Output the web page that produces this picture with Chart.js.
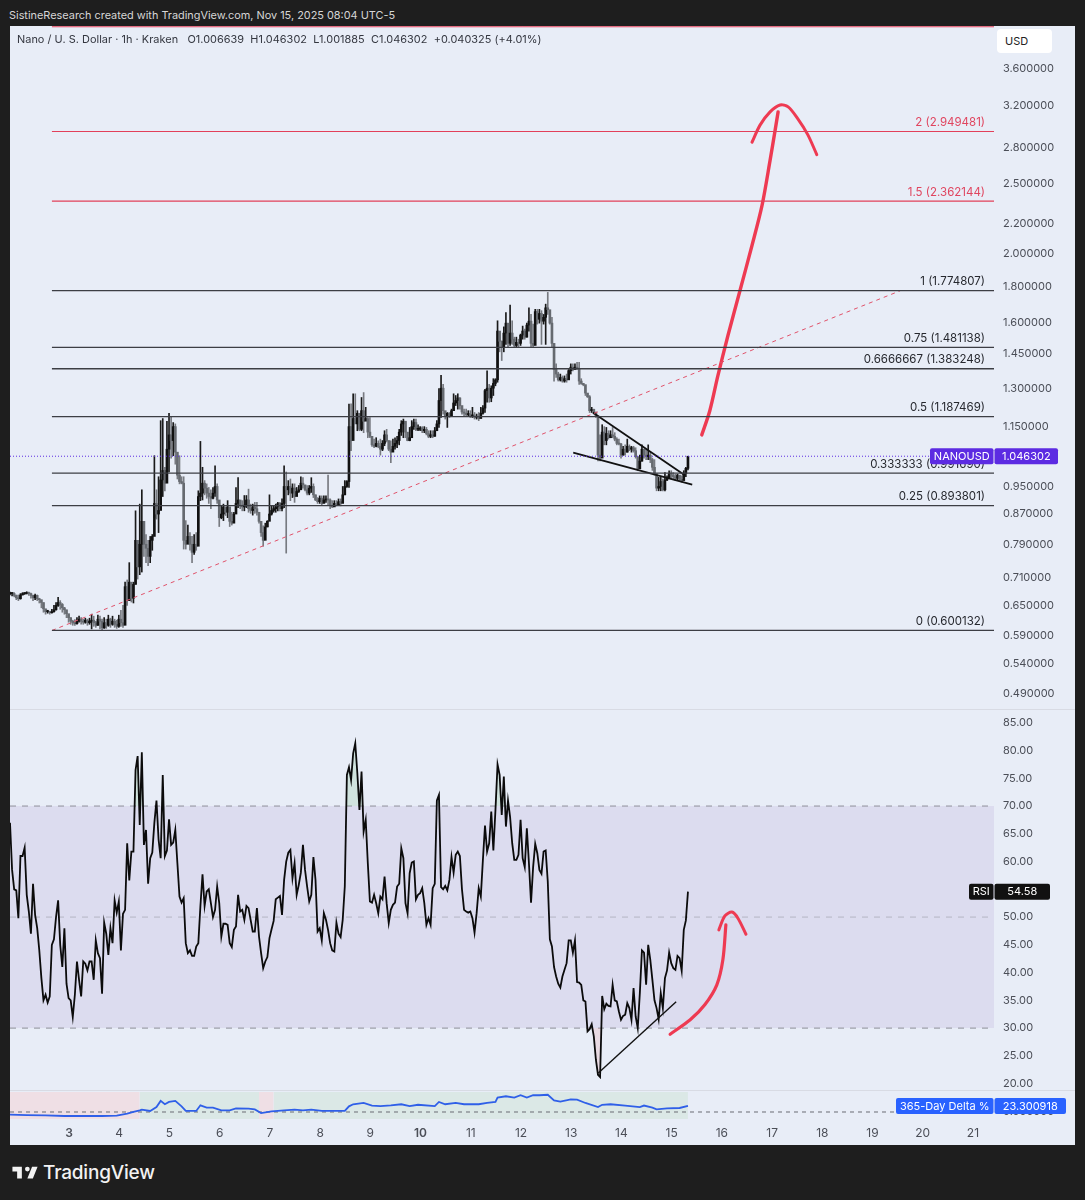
<!DOCTYPE html>
<html lang="en">
<head>
<meta charset="UTF-8">
<title>Nano / U. S. Dollar</title>
<script src="https://cdn.jsdelivr.net/npm/chart.js"></script>
<style>
  html, body { margin: 0; padding: 0; background: #1e1e1e; }
  body { width: 1085px; height: 1200px; position: relative; overflow: hidden; font-family: Inter, "Noto Sans", sans-serif; }
  .credit { position: absolute; left: 9px; top: 8px; color: #d6d6d6; font-size: 10.9px; white-space: nowrap; }
  .panel { position: absolute; left: 10px; top: 26px; width: 1065px; height: 1119px; background: #e8edf7; }
  canvas { position: absolute; left: 10px; }
  #priceChart { top: 26px; }
  #rsiChart { top: 710px; }
  #deltaChart { top: 1092px; }
  .sep { position: absolute; left: 10px; width: 1065px; height: 1px; background: #d8dbe4; }
  .legend { position: absolute; left: 17px; top: 32px; font-size: 10.9px; letter-spacing: 0.04px; color: #33363f; white-space: pre; }
  .usd { position: absolute; left: 997px; top: 29px; width: 55px; height: 24px; line-height: 24px; background: #fff; border-radius: 4px; font-size: 11px; color: #222; text-indent: 8px; }
  .logo { position: absolute; left: 10px; top: 1161px; display: flex; align-items: center; color: #f2f2f2; font-size: 19px; font-weight: 500; letter-spacing: -0.2px; }
  .logo svg { width: 30px; height: 22px; margin-right: 3px; fill: #f2f2f2; }
</style>
</head>
<body>
  <div class="credit">SistineResearch created with TradingView.com, Nov 15, 2025 08:04 UTC-5</div>
  <div class="panel"></div>
  <div class="sep" style="top:709px"></div>
  <div class="sep" style="top:1090px"></div>
  <canvas id="priceChart" width="1065" height="683"></canvas>
  <canvas id="rsiChart" width="1065" height="380"></canvas>
  <canvas id="deltaChart" width="1065" height="53"></canvas>
  <div class="legend">Nano / U. S. Dollar · 1h · Kraken   O1.006639  H1.046302  L1.001885  C1.046302  +0.040325 (+4.01%)</div>
  <div class="usd">USD</div>
  <div class="logo">
    <svg viewBox="0 0 36 28"><path d="M14 6H2v6h6v9h6V6zm14 15h-7l6-15h7l-6 15zm-7-9a3 3 0 1 0 0-6 3 3 0 0 0 0 6z"/></svg>
    TradingView
  </div>

<script>
const xMin = 1.825;
const xMax = 21.419;
const dayLabels = [3, 4, 5, 6, 7, 8, 9, 10, 11, 12, 13, 14, 15, 16, 17, 18, 19, 20, 21];
const boldDays = [3, 10];

const priceTicks = [3.6, 3.2, 2.8, 2.5, 2.2, 2.0, 1.8, 1.6, 1.45, 1.3, 1.15, 0.95, 0.87, 0.79, 0.71, 0.65, 0.59, 0.54, 0.49];

// hourly candles
const candleHigh = [
  .678,.677,.677,.672,.672,.675,.677,.677,.679,.678,.676,.672,.674,.672,.665,.660,.655,.642,.640,.638,
  .642,.650,.656,.667,.660,.654,.646,.640,.630,.625,.620,.621,.625,.628,.625,.622,.624,.622,.624,.632,
  .628,.618,.630,.628,.622,.625,.622,.630,.624,.628,.622,.620,.630,.640,.650,
  .700,.705,.745,.696,.700,.879,.770,.898,.940,.825,.815,.800,.810,.815,1.048,.940,.980,1.172,1.180,1.010,
  1.170,1.200,1.185,1.165,1.160,1.048,1.048,.980,.980,.852,.840,.820,.810,.815,.820,.937,1.097,1.010,.968,.958,
  .947,.940,.947,1.015,.958,.908,.893,.898,.888,.908,.879,.875,.875,.947,.977,.908,.908,.923,.923,.942,
  .898,.898,.903,.903,.872,.845,.838,.845,.852,.925,.893,.893,.898,.903,.903,.913,1.015,.995,.968,.973,
  .958,.958,.947,.953,.980,.977,.953,.953,.953,.977,.958,.925,.917,.922,.922,.922,.922,.985,.913,.908,
  .908,.908,.913,.913,.950,.968,.968,1.236,1.237,1.277,1.277,1.210,1.197,1.262,1.282,1.223,1.184,1.184,1.105,1.105,
  1.110,1.099,1.105,1.100,1.135,1.140,1.099,1.099,1.105,1.110,1.115,1.140,1.172,1.178,1.165,1.128,1.147,1.172,1.178,1.178,
  1.157,1.150,1.150,1.150,1.147,1.135,1.135,1.135,1.147,1.172,1.298,1.354,1.316,1.203,1.203,1.203,1.216,1.277,1.270,1.277,
  1.262,1.223,1.216,1.216,1.210,1.210,1.223,1.203,1.197,1.203,1.223,1.230,1.295,1.374,1.316,1.310,1.340,1.340,1.612,1.530,
  1.512,1.581,1.655,1.581,1.695,1.612,1.530,1.530,1.520,1.545,1.585,1.570,1.600,1.680,1.645,1.595,1.672,1.672,1.672,1.665,
  1.645,1.700,1.765,1.664,1.630,1.473,1.405,1.368,1.360,1.352,1.352,1.360,1.380,1.405,1.405,1.405,1.412,1.412,1.340,1.320,
  1.310,1.277,1.270,1.223,1.216,1.203,1.184,1.120,1.157,1.150,1.147,1.135,1.135,1.147,1.128,1.110,1.105,1.090,1.080,1.085,
  1.105,1.085,1.080,1.080,1.075,1.040,1.050,1.085,1.070,1.070,1.085,1.060,1.040,1.035,.983,.978,.978,.973,.993,.983,
  .999,.999,.993,.988,.988,.983,.983,.999,1.010,1.046302
];
const candleLow = [
  .672,.670,.668,.662,.660,.663,.672,.673,.674,.671,.665,.660,.662,.660,.655,.645,.636,.632,.634,.632,
  .634,.636,.640,.648,.642,.636,.632,.625,.616,.612,.610,.610,.612,.616,.612,.612,.614,.610,.612,.603,
  .608,.606,.610,.603,.600,.604,.604,.608,.606,.610,.606,.604,.606,.608,.606,
  .625,.650,.660,.657,.655,.696,.707,.717,.723,.760,.745,.738,.745,.775,.860,.856,.820,.908,.920,.937,
  1.000,.995,1.040,1.048,1.020,.973,.958,.958,.778,.778,.800,.775,.745,.765,.775,.820,.908,.910,.925,.915,
  .900,.885,.913,.920,.900,.836,.857,.852,.866,.860,.836,.840,.852,.888,.888,.885,.879,.879,.888,.875,
  .872,.867,.872,.867,.845,.810,.785,.830,.835,.867,.867,.875,.875,.879,.879,.879,.888,.768,.925,.908,
  .917,.903,.925,.932,.942,.945,.937,.925,.925,.932,.917,.908,.900,.900,.895,.903,.903,.895,.885,.888,
  .893,.893,.895,.893,.925,.925,.947,.947,1.065,1.135,1.165,1.135,1.135,1.135,1.128,1.172,1.110,1.110,1.080,1.075,
  1.078,1.075,1.050,1.065,1.082,1.095,1.065,1.025,1.065,1.070,1.075,1.085,1.118,1.110,1.110,1.099,1.099,1.135,1.140,1.135,
  1.135,1.135,1.128,1.128,1.120,1.110,1.110,1.110,1.115,1.140,1.147,1.184,1.197,1.178,1.147,1.184,1.190,1.210,1.230,1.216,
  1.216,1.197,1.190,1.190,1.190,1.184,1.184,1.178,1.178,1.172,1.184,1.197,1.203,1.243,1.243,1.245,1.270,1.310,1.325,1.460,
  1.420,1.460,1.495,1.480,1.490,1.495,1.480,1.480,1.480,1.490,1.520,1.520,1.530,1.560,1.480,1.480,1.595,1.595,1.600,1.495,
  1.595,1.495,1.645,1.595,1.480,1.330,1.345,1.330,1.330,1.325,1.325,1.325,1.345,1.360,1.374,1.380,1.380,1.316,1.316,1.310,
  1.270,1.262,1.203,1.203,1.197,1.184,1.031,1.031,1.065,1.085,1.085,1.105,1.110,1.110,1.099,1.085,1.085,1.040,1.050,1.050,
  1.060,1.065,1.060,1.060,1.040,.999,1.020,1.030,1.040,1.035,1.035,1.025,1.000,.985,.937,.937,.937,.937,.937,.968,
  .978,.973,.973,.968,.968,.968,.963,.978,.980,1.001885
];
const candleClose = [
  .675,.675,.671,.666,.664,.672,.675,.675,.677,.675,.671,.666,.671,.664,.662,.656,.643,.637,.637,.635,
  .637,.641,.650,.656,.652,.645,.641,.633,.625,.618,.615,.613,.618,.622,.618,.616,.620,.615,.618,.620,
  .615,.610,.622,.618,.605,.615,.610,.622,.612,.618,.612,.608,.622,.615,.610,
  .690,.660,.700,.665,.695,.800,.735,.790,.850,.790,.780,.760,.800,.810,.900,.870,.880,.970,1.000,.960,
  1.070,1.120,1.100,1.150,1.060,.985,.965,.960,.800,.790,.810,.790,.770,.790,.785,.920,.930,.960,.945,.930,
  .920,.915,.930,.950,.910,.860,.870,.890,.875,.890,.850,.845,.870,.900,.910,.895,.890,.895,.910,.885,
  .880,.890,.885,.875,.850,.820,.800,.835,.850,.870,.880,.885,.890,.900,.885,.900,.950,.940,.950,.930,
  .945,.920,.935,.940,.960,.955,.940,.930,.945,.950,.925,.910,.905,.915,.900,.910,.912,.910,.895,.890,
  .900,.895,.905,.900,.925,.950,.965,1.150,1.100,1.180,1.160,1.200,1.140,1.210,1.170,1.180,1.130,1.115,1.085,1.080,
  1.090,1.080,1.070,1.090,1.120,1.100,1.070,1.060,1.080,1.090,1.100,1.130,1.160,1.170,1.130,1.100,1.110,1.150,1.165,1.140,
  1.140,1.145,1.135,1.140,1.125,1.115,1.120,1.115,1.135,1.160,1.250,1.300,1.210,1.190,1.200,1.190,1.210,1.240,1.250,1.260,
  1.230,1.205,1.200,1.195,1.195,1.190,1.190,1.185,1.185,1.180,1.200,1.220,1.290,1.300,1.260,1.300,1.320,1.335,1.560,1.510,
  1.480,1.550,1.600,1.500,1.550,1.520,1.490,1.505,1.500,1.540,1.560,1.530,1.590,1.610,1.500,1.490,1.660,1.620,1.650,1.610,
  1.630,1.680,1.670,1.600,1.500,1.380,1.360,1.335,1.345,1.330,1.340,1.335,1.375,1.390,1.380,1.390,1.385,1.330,1.320,1.315,
  1.280,1.265,1.210,1.215,1.205,1.190,1.050,1.040,1.130,1.100,1.125,1.110,1.120,1.115,1.105,1.090,1.088,1.050,1.070,1.060,
  1.080,1.070,1.075,1.065,1.045,1.005,1.030,1.070,1.050,1.045,1.050,1.035,1.010,.990,.945,.950,.965,.940,.970,.975,
  .990,.985,.980,.975,.985,.972,.968,.990,1.006639,1.046302
];

// fib retracement levels
const fibLevels = [0, 0.25, 0.333333, 0.5, 0.6666667, 0.75, 1, 1.5, 2];
const fibValues = [0.600132, 0.893801, 0.991690, 1.187469, 1.383248, 1.481138, 1.774807, 2.362144, 2.949481];
const fibTopLine = 4.12;
const fibStartDay = 2.66;
const lastPrice = 1.046302;

// drawings on the price pane
const dashDays = [2.66, 19.55];
const dashPrices = [0.6, 1.774];
const wedgeUpperDays = [13.43, 15.27];
const wedgeUpperPrices = [1.203, 0.984];
const wedgeLowerDays = [13.04, 15.41];
const wedgeLowerPrices = [1.058, 0.956];
const arrowDays = [15.60, 15.76, 15.92, 16.12, 16.36, 16.60, 16.80, 16.96, 17.06, 17.12];
const arrowPrices = [1.12, 1.21, 1.352, 1.537, 1.774, 2.05, 2.33, 2.69, 2.96, 3.14];
const arrowHeadDays = [16.60, 16.76, 16.96, 17.16, 17.32, 17.50, 17.71, 17.89];
const arrowHeadPrices = [2.85, 3.01, 3.14, 3.21, 3.19, 3.08, 2.92, 2.74];

const rsiValues = [
  67,58.5,55,54.8,49.8,61,61,62.5,54,51,47,56,50.4,48,44,39,35,36,34.6,35.7,45,46,50,53,45,41,48,38,35.4,35,
  32,36,42,38.7,35.7,42,41.6,40.4,42,42,38.7,45.8,43.5,42.6,36.2,49,47,43.2,48,45.3,53,50.8,52.8,44,50.6,51.3,63.3,56.6,61.8,61.8,
  76.5,79,66.6,79.7,63,65.7,56,60.6,61.6,67,71,64,60.6,75.6,61,62,67.6,63,63.4,65.7,59.7,53.7,52.6,53.4,45.3,43.5,44,43,43,44.7,
  45.3,52,57.7,52,54.6,55,52.5,50,51.3,55.5,52.5,46.5,48.8,48.8,48.6,45.3,44.6,47.7,48.3,54,51,51.3,49.5,52,51.6,49.5,47.4,47.4,51.6,46.5,
  43.5,40.8,42,42.8,46.2,47.8,49.3,53.2,53.5,53.8,50.4,56.7,60,61.6,62.1,57,59.7,54,55.8,58,63,58.5,55.5,52.8,54,60.8,56.7,47.4,48,45.8,
  50.7,49.5,47.7,45.3,44,43.8,49,47,46.4,49.5,55.5,75.6,77,
  74.7,79.5,81.3,75.9,69.3,76.2,65.4,67.5,59.7,52.8,52.6,54,52.5,50.7,53.7,53.2,57.3,52.5,48.9,51.3,52.2,52.6,55.5,56,62.4,60.6,52.5,50.7,57.9,
  59.8,60,53.2,54,54.3,55.2,52.5,48.6,49.8,48.6,55.2,56,71,72,55.4,55,55.6,54.8,56.7,60.8,58,61.2,61.8,61,55,51.3,51,50.8,51,49.8,
  47.2,50.7,55.2,53.7,60.3,66.5,61.8,63.3,69,62,69.3,77.5,75.6,68.4,75.3,66.3,71,68,63.3,60.3,60.3,61.2,67.5,60.6,59,66,59.7,52.6,59,63.2,
  61.5,58.5,57.8,61.8,62,56.4,46,44.7,41,39.3,38,37.3,39.3,40.5,41.7,45.8,45.8,43.6,45.8,38.3,38.2,37.8,35,34.8,29.4,29.8,30.7,28.5,24.3,21.6,
  21.2,35.8,33.4,34.4,34,33.9,37.8,35,34.8,33,31.5,32.2,32.4,34.5,33.6,31.5,37.2,32.1,30,36.3,44,43.6,37.8,45,42.3,38.7,35,33.6,31.6,36.3,
  33.6,39,40.4,43.6,41.7,40.8,40.5,43,42.6,40.3,47.7,49.4,54.58
];
const rsiTicks = [85, 80, 75, 70, 65, 60, 55, 50, 45, 40, 35, 30, 25, 20];
const rsiBands = [70, 50, 30];
const rsiTrendDays = [13.54, 15.09];
const rsiTrendValues = [21.9, 34.75];
const rsiArrowDays = [14.97, 15.37, 15.66, 15.90, 16.02, 16.08];
const rsiArrowValues = [28.9, 31.5, 34.2, 37.8, 42.3, 48.6];
const rsiHeadDays = [15.94, 16.06, 16.20, 16.32, 16.48];
const rsiHeadValues = [47.7, 50.2, 50.9, 49.8, 46.9];

// delta line is kept as (candle hour, value)
const deltaHours = [0,8,17,26,35,44,51,56,59,62,63,67,70,72,74,76,79,82,84,89,91,94,97,101,105,108,114,117,120,125,131,136,140,144,149,160,162,164,169,173,177,182,187,191,195,203,205,208,213,217,224,228,232,233,237,241,244,247,250,253,257,260,263,268,271,275,281,283,287,294,301,303,307,309,314,320,324];
const deltaValues = [-10,-12,-13,-15.5,-15.5,-15.5,-14,-6.5,0,6.5,9,4,19,43,30,39,43,22,4,4,26,17,17,6.5,6.5,14,13,10,-4,2.6,6.5,9,6.5,9,4,4,22,30,35,25,23,26,30,23,28,23,39,30,35,30,30,35,39,56,61,56,65,56,65,65,67,45,40,49,48,35,19,28,30,25,19,25,17,10,14,15.5,23.300918];
const deltaRedHours = [[0, 62], [119, 126]];
const deltaGreenHours = [[62, 119], [126, 324]];

const fontFamily = 'Inter, "Noto Sans", sans-serif';
const tickColor = '#4b4e57';
const hourToDay = i => xMin + i / 24;
const pairs = (xs, ys) => xs.map((x, i) => ({ x: x, y: ys[i] }));
const closeOpen = candleClose.map((c, i) => i === 0 ? c : candleClose[i - 1]);

function lineSet(data, color, width, extra) {
  return Object.assign({ type: 'line', data: data, borderColor: color, borderWidth: width, pointRadius: 0, fill: false, order: 0 }, extra || {});
}

function baseOptions(yScale, showX) {
  return {
    responsive: false,
    animation: false,
    layout: { autoPadding: false, padding: 0 },
    plugins: { legend: { display: false }, tooltip: { enabled: false } },
    scales: {
      x: {
        type: 'linear', min: xMin, max: xMax, offset: false, display: showX,
        grid: { display: false, drawTicks: false }, border: { display: false },
        afterFit: s => { if (showX) s.height = 26; s.paddingLeft = 0; s.paddingRight = 0; },
        ticks: {
          stepSize: 1, includeBounds: false, autoSkip: false, maxRotation: 0, padding: 7, color: tickColor,
          font: c => ({ family: fontFamily, size: 12, weight: c.tick && boldDays.includes(c.tick.value) ? '600' : '400' }),
          callback: v => dayLabels.includes(v) ? String(v) : ''
        }
      },
      y: Object.assign({
        position: 'right',
        grid: { display: false, drawTicks: false }, border: { display: false },
        afterFit: s => { s.width = 81; s.paddingTop = 0; s.paddingBottom = 0; }
      }, yScale)
    }
  };
}

function yTicks(color) {
  return { padding: 9, autoSkip: false, color: color || tickColor, font: { family: fontFamily, size: 11 } };
}

function badge(ctx, x0, x1, y, h, color, text, size) {
  ctx.fillStyle = color;
  ctx.beginPath();
  ctx.roundRect(x0, y - h / 2, x1 - x0, h, 2);
  ctx.fill();
  ctx.fillStyle = '#fff';
  ctx.font = (size || 11) + 'px ' + fontFamily;
  ctx.textAlign = 'center';
  ctx.textBaseline = 'middle';
  ctx.fillText(text, (x0 + x1) / 2, y + 0.5);
}

const priceOverlay = {
  id: 'priceOverlay',
  afterDatasetsDraw(chart) {
    const ctx = chart.ctx, y = chart.scales.y, right = chart.chartArea.right;
    ctx.save();
    ctx.font = '11.5px ' + fontFamily;
    ctx.textAlign = 'right';
    ctx.textBaseline = 'bottom';
    fibLevels.forEach((lvl, i) => {
      ctx.fillStyle = lvl > 1 ? '#e0455f' : '#26282e';
      ctx.fillText(lvl + ' (' + fibValues[i].toFixed(6) + ')', right - 9, y.getPixelForValue(fibValues[i]) - 3);
    });
    const py = y.getPixelForValue(lastPrice);
    badge(ctx, right - 64, right - 0.5, py, 16, '#5c2be2', 'NANOUSD');
    badge(ctx, right + 0.5, right + 64, py, 16, '#5c2be2', lastPrice.toFixed(6));
    ctx.restore();
  }
};

new Chart(document.getElementById('priceChart'), {
  data: {
    datasets: [
      {
        type: 'bar', grouped: false, barThickness: 1, order: 3,
        data: candleHigh.map((h, i) => ({ x: hourToDay(i), y: [candleLow[i], h] })),
        backgroundColor: candleClose.map((c, i) => c >= closeOpen[i] ? '#1a1a1a' : '#777a80')
      },
      {
        type: 'bar', grouped: false, barThickness: 2, minBarLength: 1, order: 2,
        data: candleClose.map((c, i) => ({ x: hourToDay(i), y: [Math.min(c, closeOpen[i]), Math.max(c, closeOpen[i])] })),
        backgroundColor: candleClose.map((c, i) => c >= closeOpen[i] ? '#111' : '#666a70')
      },
      ...fibValues.map((v, i) => lineSet([{ x: fibStartDay, y: v }, { x: xMax, y: v }], fibLevels[i] > 1 ? '#e2405a' : '#3c3e44', fibLevels[i] > 1 ? 1.2 : 1.3)),
      lineSet([{ x: fibStartDay, y: fibTopLine }, { x: xMax, y: fibTopLine }], '#e2405a', 1),
      lineSet([{ x: xMin, y: lastPrice }, { x: xMax, y: lastPrice }], '#5c2be2', 1, { borderDash: [1, 2] }),
      lineSet(pairs(dashDays, dashPrices), '#e0526a', 1, { borderDash: [4, 4] }),
      lineSet(pairs(wedgeUpperDays, wedgeUpperPrices), '#111', 1.8),
      lineSet(pairs(wedgeLowerDays, wedgeLowerPrices), '#111', 1.8),
      lineSet(pairs(arrowDays, arrowPrices), '#ee3a52', 3.4, { tension: 0.3, borderCapStyle: 'round' }),
      lineSet(pairs(arrowHeadDays, arrowHeadPrices), '#ee3a52', 3, { tension: 0.3, borderCapStyle: 'round' })
    ]
  },
  options: baseOptions({
    type: 'logarithmic', min: 0.467, max: 4.13,
    afterBuildTicks: s => { s.ticks = priceTicks.map(v => ({ value: v })); },
    ticks: Object.assign(yTicks(), { callback: v => v.toFixed(6) })
  }, false),
  plugins: [priceOverlay]
});

const rsiOverlay = {
  id: 'rsiOverlay',
  afterDatasetsDraw(chart) {
    const ctx = chart.ctx, right = chart.chartArea.right;
    const py = chart.scales.y.getPixelForValue(rsiValues[rsiValues.length - 1]);
    ctx.save();
    badge(ctx, right - 25, right - 0.5, py, 16, '#111', 'RSI');
    badge(ctx, right + 0.5, right + 56, py, 16, '#111', rsiValues[rsiValues.length - 1].toFixed(2));
    ctx.restore();
  }
};

const rsiPoints = rsiValues.map((v, i) => ({ x: hourToDay(i), y: v }));

new Chart(document.getElementById('rsiChart'), {
  data: {
    datasets: [
      lineSet([{ x: xMin, y: rsiBands[0] }, { x: xMax, y: rsiBands[0] }], 'rgba(0,0,0,0)', 0, { fill: { target: { value: rsiBands[2] }, below: '#dcdcef', above: '#dcdcef' }, order: 5 }),
      ...rsiBands.map((v, i) => lineSet([{ x: xMin, y: v }, { x: xMax, y: v }], i === 1 ? '#b4b6c4' : '#8e9099', 1, { borderDash: [6, 6], order: 4 })),
      lineSet(rsiPoints, 'rgba(0,0,0,0)', 0, { fill: { target: { value: 70 }, above: 'rgba(76,175,80,0.15)', below: 'rgba(0,0,0,0)' }, order: 3 }),
      lineSet(rsiPoints, 'rgba(0,0,0,0)', 0, { fill: { target: { value: 30 }, above: 'rgba(0,0,0,0)', below: 'rgba(239,83,80,0.12)' }, order: 3 }),
      lineSet(rsiPoints, '#0b0b0b', 1.8, { order: 1 }),
      lineSet(pairs(rsiTrendDays, rsiTrendValues), '#111', 1.4),
      lineSet(pairs(rsiArrowDays, rsiArrowValues), '#ee3a52', 3.2, { tension: 0.3, borderCapStyle: 'round' }),
      lineSet(pairs(rsiHeadDays, rsiHeadValues), '#ee3a52', 3, { tension: 0.3, borderCapStyle: 'round' })
    ]
  },
  options: baseOptions({
    type: 'linear', min: 18.85, max: 87.3,
    afterBuildTicks: s => { s.ticks = rsiTicks.map(v => ({ value: v })); },
    ticks: Object.assign(yTicks(), { callback: v => v.toFixed(2) })
  }, false),
  plugins: [rsiOverlay]
});

const deltaOverlay = {
  id: 'deltaOverlay',
  afterDatasetsDraw(chart) {
    const ctx = chart.ctx, right = chart.chartArea.right;
    const last = deltaValues[deltaValues.length - 1];
    const py = chart.scales.y.getPixelForValue(last);
    ctx.save();
    badge(ctx, right - 98, right - 0.5, py, 16, '#2962ff', '365-Day Delta %');
    badge(ctx, right + 0.5, right + 72, py, 16, '#2962ff', last.toFixed(6));
    ctx.restore();
  }
};

const bandSet = (band, color) => lineSet([{ x: hourToDay(band[0]), y: 77.6 }, { x: hourToDay(band[1]), y: 77.6 }], 'rgba(0,0,0,0)', 0, { fill: 'start', backgroundColor: color, order: 5 });

new Chart(document.getElementById('deltaChart'), {
  data: {
    datasets: [
      ...deltaRedHours.map(b => bandSet(b, '#efdfe5')),
      ...deltaGreenHours.map(b => bandSet(b, '#dbe8e6')),
      lineSet([{ x: xMin, y: 0 }, { x: xMax, y: 0 }], '#6a6c74', 1, { borderDash: [4, 4], order: 3 }),
      lineSet(deltaHours.map((h, i) => ({ x: hourToDay(h), y: deltaValues[i] })), '#2f5fe8', 1.8, { order: 1 })
    ]
  },
  options: baseOptions({
    type: 'linear', min: -27.2, max: 77.6,
    afterBuildTicks: s => { s.ticks = [{ value: 0 }]; },
    ticks: Object.assign(yTicks(), { callback: v => v.toFixed(6) })
  }, true),
  plugins: [deltaOverlay]
});
</script>
</body>
</html>
